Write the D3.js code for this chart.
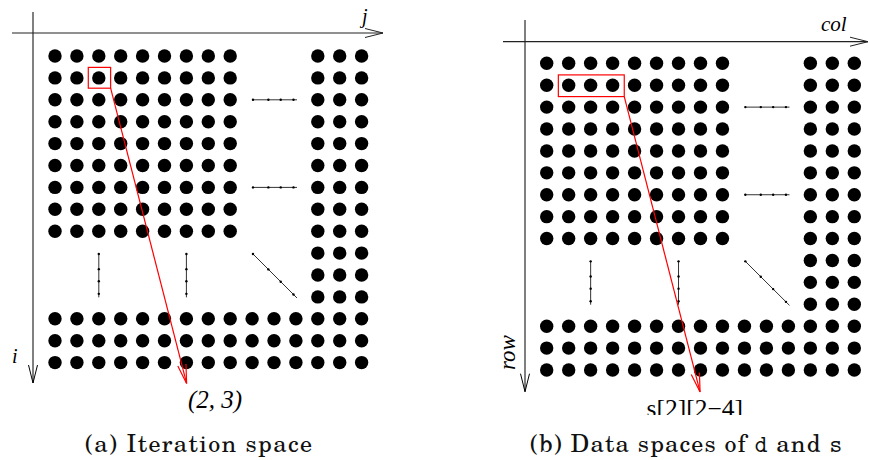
<!DOCTYPE html>
<html><head><meta charset="utf-8">
<script src="https://cdn.jsdelivr.net/npm/d3@7"></script>
<style>body{margin:0;background:#fff}svg{display:block}</style>
</head><body>
<svg id="c" width="870" height="460"></svg>
<script>
// ---- data (grid indices) ----
const gridIndex = d3.range(15);              // 15 x 15 grid, 0..14
const blockCols = [[0, 8], [12, 14], [0, 14]]; // dot blocks: column ranges
const blockRows = [[0, 8], [0, 14], [12, 14]]; // dot blocks: row ranges
const ellipsisFrom = [[9.04, 2], [9.04, 6], [2, 9.04], [6, 9.04], [9.04, 9.04]]; // [col,row]
const ellipsisTo   = [[11.05, 2], [11.05, 6], [2, 11.02], [6, 11.02], [11.05, 11.05]];
const ellipsisMarks = [0, 0.35, 0.63, 0.92];
const panelNames = ["a", "b"];
const highlightCols = [[1.52, 2.54], [0.53, 3.53]];
const highlightRows = [[0.52, 1.47], [0.53, 1.52]];
const arrowTip = [[6.01, 14.95], [6.98, 15.0]];
const axisNames = [["j", "i"], ["col", "row"]];
const pointLabels = ["(2, 3)", "s[2][2\u22124]"];
const captions = [["(a) Iteration space"], ["(b) Data spaces of ", "d", " and ", "s"]];

const svg = d3.select("#c");
const layout = [
  {x: [55, 361.6], y: [56, 362.6], vAxis: [33, 12, 383], hAxis: [33, 12, 383]},
  {x: [546.7, 854.3], y: [63.3, 370], vAxis: [525, 20, 391.7], hAxis: [41.7, 503, 868]}
];

// dots
const dots = [];
blockCols.forEach((cr, b) => {
  const rr = blockRows[b];
  gridIndex.filter(c => c >= cr[0] && c <= cr[1]).forEach(c =>
    gridIndex.filter(r => r >= rr[0] && r <= rr[1]).forEach(r => {
      if (!dots.some(d => d[0] === c && d[1] === r)) dots.push([c, r]);
    }));
});

function openHead(g, tip, dir, len, half, color, width) {
  const [dx, dy] = dir; const n = Math.hypot(dx, dy); const ux = dx / n, uy = dy / n;
  const bx = tip[0] - ux * len, by = tip[1] - uy * len;
  const px = -uy, py = ux;
  g.append("path")
    .attr("d", `M${bx + px * half},${by + py * half}L${tip[0]},${tip[1]}L${bx - px * half},${by - py * half}`)
    .attr("fill", "none").attr("stroke", color).attr("stroke-width", width);
}

panelNames.forEach((p, i) => {
  const L = layout[i];
  const xs = d3.scaleLinear().domain([0, 14]).range(L.x);
  const ys = d3.scaleLinear().domain([0, 14]).range(L.y);
  const g = svg.append("g");

  // axes
  const [vx, vy0, vy1] = L.vAxis;
  g.append("line").attr("x1", vx).attr("x2", vx).attr("y1", vy0).attr("y2", vy1)
    .attr("stroke", "#000").attr("stroke-width", 1);
  openHead(g, [vx, vy1], [0, 1], 18, 4.5, "#000", 1);
  const [hy, hx0, hx1] = L.hAxis;
  g.append("line").attr("x1", hx0).attr("x2", hx1).attr("y1", hy).attr("y2", hy)
    .attr("stroke", "#222").attr("stroke-width", 1.2);
  openHead(g, [hx1, hy], [1, 0], 18, 4.5, "#222", 1);

  // dots
  g.selectAll("circle.dot").data(dots).join("circle").attr("class", "dot")
    .attr("cx", d => xs(d[0])).attr("cy", d => ys(d[1])).attr("r", 6.7).attr("fill", "#000");

  // ellipsis lines
  ellipsisFrom.forEach((f, k) => {
    const t = ellipsisTo[k];
    const x0 = xs(f[0]), y0 = ys(f[1]), x1 = xs(t[0]), y1 = ys(t[1]);
    g.append("line").attr("x1", x0).attr("y1", y0).attr("x2", x1).attr("y2", y1)
      .attr("stroke", "#333").attr("stroke-width", 1);
    ellipsisMarks.forEach(m => g.append("circle")
      .attr("cx", x0 + (x1 - x0) * m).attr("cy", y0 + (y1 - y0) * m).attr("r", 1.2).attr("fill", "#000"));
  });

  // highlight box + red arrow
  const hc = highlightCols[i], hr = highlightRows[i];
  g.append("rect").attr("x", xs(hc[0])).attr("y", ys(hr[0]))
    .attr("width", xs(hc[1]) - xs(hc[0])).attr("height", ys(hr[1]) - ys(hr[0]))
    .attr("fill", "none").attr("stroke", "#f00").attr("stroke-width", 1.2);
  const sx = xs(hc[1]), sy = ys(hr[1]);
  const tx = xs(arrowTip[i][0]), ty = ys(arrowTip[i][1]);
  g.append("line").attr("x1", sx).attr("y1", sy).attr("x2", tx).attr("y2", ty)
    .attr("stroke", "#f00").attr("stroke-width", 1.2);
  openHead(g, [tx, ty], [tx - sx, ty - sy], 19, 4.2, "#f00", 1.2);
});

// axis labels
const serif = "'Liberation Serif', 'Times New Roman', serif";
svg.append("text").attr("x", 362).attr("y", 22.5).attr("font-family", serif).attr("font-style", "italic")
  .attr("font-size", 20).text(axisNames[0][0]);
svg.append("text").attr("x", 12).attr("y", 363).attr("font-family", serif).attr("font-style", "italic")
  .attr("font-size", 20).text(axisNames[0][1]);
svg.append("text").attr("x", 821).attr("y", 30.7).attr("font-family", serif).attr("font-style", "italic")
  .attr("font-size", 21).text(axisNames[1][0]);
svg.append("text").attr("transform", "translate(515,370) rotate(-90)").attr("font-family", serif)
  .attr("font-style", "italic").attr("font-size", 23).text(axisNames[1][1]);

// point labels
svg.append("text").attr("x", 215).attr("y", 407.5).attr("text-anchor", "middle").attr("font-family", serif)
  .attr("font-style", "italic").attr("font-size", 25).text(pointLabels[0]);
svg.append("clipPath").attr("id", "clipS").append("rect").attr("x", 600).attr("y", 380).attr("width", 200).attr("height", 35);
svg.append("text").attr("x", 646.5).attr("y", 417).attr("font-family", serif).attr("font-size", 25.5)
  .attr("clip-path", "url(#clipS)").text(pointLabels[1]);

// captions (fitted to the reference widths)
const capLeft = [85, 530], capWidth = [227, 312];
const capFont = "'TeX Gyre Schola', 'Century Schoolbook L', 'DejaVu Serif', serif";
const monoFont = "'Latin Modern Mono', 'TeX Gyre Cursor', 'Liberation Mono', monospace";
captions.forEach((parts, i) => {
  const t = svg.append("text").attr("x", capLeft[i]).attr("y", 452)
    .attr("font-family", capFont).attr("font-size", 24).attr("fill", "#111");
  parts.forEach((s, k) => t.append("tspan")
    .attr("font-family", (k % 2 === 1) ? monoFont : capFont)
    .attr("font-weight", (k % 2 === 1) ? 300 : null)
    .text(s));
  const len = t.node().getComputedTextLength();
  const n = parts.join("").length;
  t.attr("letter-spacing", ((capWidth[i] - len) / (n - 1)).toFixed(3));
});
</script>
</body></html>
